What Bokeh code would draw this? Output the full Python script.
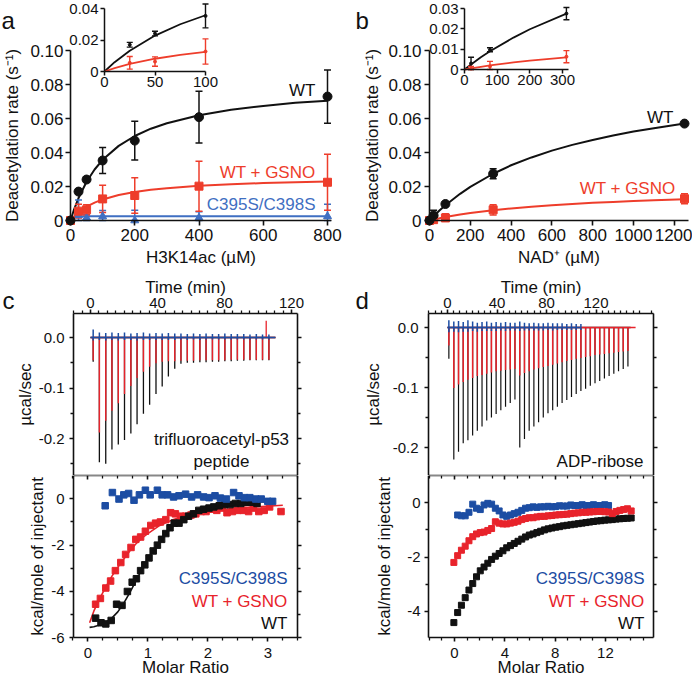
import numpy as np
from bokeh.plotting import figure
from bokeh.models import Range1d, LinearAxis, FixedTicker, CustomJSTickFormatter, Label
from bokeh.layouts import row, column
from bokeh.embed import file_html
from bokeh.resources import INLINE

# ======================= DATA =======================
# ---- panel a : H3K14ac titration ----
h3k14ac_um = [0, 25, 50, 100, 200, 400, 800]
a_wt_rate = [0, 0.0170, 0.0241, 0.0353, 0.0470, 0.0608, 0.0729]
a_wt_err = [0, 0.0015, 0.0015, 0.0076, 0.0114, 0.0152, 0.0157]
a_gsno_rate = [0, 0.0055, 0.0063, 0.0127, 0.0147, 0.0202, 0.0225]
a_gsno_err = [0, 0.0040, 0.0030, 0.0080, 0.0105, 0.0147, 0.0165]
a_mut_rate = [0, 0.0030, 0.0016, 0.0024, 0.0000, 0.0016, 0.0025]
a_mut_err = [0, 0.0090, 0.0020, 0.0035, 0.0060, 0.0035, 0.0070]
a_fit_x = [0, 10, 25, 50, 75, 100, 150, 200, 250, 300, 400, 500, 600, 700, 800]
a_fit_wt = [0, 0.0059, 0.0132, 0.0228, 0.0300, 0.0357, 0.0439, 0.0497, 0.0540,
            0.0572, 0.0619, 0.0651, 0.0674, 0.0692, 0.0705]
a_fit_gsno = [0, 0.0022, 0.0048, 0.0081, 0.0105, 0.0124, 0.0150, 0.0168, 0.0181,
              0.0190, 0.0204, 0.0213, 0.0220, 0.0225, 0.0229]
a_fit_mut_x = [0, 15, 800]
a_fit_mut = [0, 0.0025, 0.0025]
a_x_ticks = [0, 200, 400, 600, 800]
a_y_ticks = [0, 0.02, 0.04, 0.06, 0.08, 0.10]
a_inset_x_ticks = [0, 50, 100]
a_inset_y_ticks = [0, 0.02, 0.04]

# ---- panel b : NAD+ titration ----
nad_um = [0, 20, 78, 312, 1250]
b_wt_rate = [0, 0.0030, 0.0097, 0.0275, 0.0570]
b_wt_err = [0, 0.0030, 0.0010, 0.0030, 0.0006]
b_gsno_rate = [0, 0.0005, 0.0015, 0.0063, 0.0128]
b_gsno_err = [0, 0.0010, 0.0025, 0.0030, 0.0030]
b_fit_x = [0, 20, 50, 78, 150, 200, 312, 400, 500, 600, 700, 800, 900, 1000, 1100, 1250]
b_fit_wt = [0, 0.0025, 0.0060, 0.0090, 0.0157, 0.0198, 0.0275, 0.0325, 0.0371,
            0.0411, 0.0445, 0.0474, 0.0500, 0.0523, 0.0543, 0.0570]
b_fit_gsno = [0, 0.0005, 0.0013, 0.0020, 0.0035, 0.0044, 0.0060, 0.0071, 0.0081,
              0.0090, 0.0097, 0.0104, 0.0109, 0.0114, 0.0119, 0.0125]
b_x_ticks = [0, 200, 400, 600, 800, 1000, 1200]
b_y_ticks = [0, 0.02, 0.04, 0.06, 0.08, 0.10]
b_inset_x_ticks = [0, 100, 200, 300]
b_inset_y_ticks = [0, 0.01, 0.02, 0.03]

# ---- panel c : ITC, trifluoroacetyl-p53 peptide ----
c_inj_time = [1.6, 5.3, 9.1, 12.8, 16.6, 20.3, 24.1, 27.8, 31.6, 35.3, 39.1, 42.8,
              46.5, 50.3, 54.0, 57.8, 61.5, 65.3, 69.0, 72.8, 76.5, 80.2, 84.0,
              87.7, 91.5, 95.2, 99.0, 102.7, 106.5]
c_wt_peak = [-0.048, -0.247, -0.250, -0.222, -0.212, -0.203, -0.190, -0.172, -0.151,
             -0.133, -0.112, -0.097, -0.077, -0.062, -0.052, -0.050, -0.050, -0.049,
             -0.049, -0.048, -0.048, -0.047, -0.047, -0.046, -0.046, -0.045, -0.045,
             -0.045, -0.045]
c_gsno_peak = [-0.045, -0.188, -0.165, -0.145, -0.130, -0.112, -0.096, -0.080, -0.068,
               -0.058, -0.051, -0.048, -0.047, -0.047, -0.046, -0.046, -0.046, -0.045,
               -0.045, -0.045, -0.045, -0.045, -0.044, -0.044, -0.044, -0.044, -0.044,
               -0.044, -0.044]
c_mut_up = [0.016, 0.010, 0.009, 0.010, 0.009, 0.010, 0.008, 0.009, 0.010, 0.008,
            0.009, 0.008, 0.009, 0.008, 0.008, 0.007, 0.008, 0.007, 0.008, 0.007,
            0.007, 0.008, 0.007, 0.007, 0.007, 0.006, 0.007, 0.006, 0.006]
c_mut_down = [-0.006, -0.005, -0.006, -0.005, -0.006, -0.005, -0.005, -0.006, -0.005,
              -0.005, -0.005, -0.005, -0.005, -0.005, -0.004, -0.005, -0.004, -0.005,
              -0.004, -0.004, -0.004, -0.004, -0.004, -0.004, -0.004, -0.004, -0.004,
              -0.004, -0.004]
c_gsno_spike_time = [104.9]
c_gsno_spike_height = [0.033]
c_trace_time = [0.0, 110.4]
c_trace_level = [0.0, 0.0]

c_wt_mr = [0.13, 0.22, 0.30, 0.39, 0.48, 0.57, 0.66, 0.74, 0.81, 0.88, 0.95, 1.02,
           1.09, 1.16, 1.23, 1.30, 1.37, 1.44, 1.52, 1.60, 1.68, 1.76, 1.85, 1.93,
           2.02, 2.10, 2.19, 2.28, 2.37, 2.46, 2.55, 2.64, 2.73, 2.82]
c_wt_kcal = [-5.15, -5.35, -5.40, -5.25, -4.55, -4.60, -4.00, -3.60, -3.45, -3.10,
             -2.85, -2.55, -2.25, -2.00, -1.75, -1.50, -1.25, -1.05, -1.05, -0.90,
             -0.75, -0.65, -0.50, -0.45, -0.40, -0.35, -0.30, -0.25, -0.25, -0.20,
             -0.20, -0.15, -0.15, -0.20]
c_gsno_mr = [0.13, 0.21, 0.30, 0.38, 0.46, 0.55, 0.63, 0.72, 0.80, 0.88, 0.96, 1.05,
             1.13, 1.21, 1.30, 1.38, 1.46, 1.55, 1.63, 1.72, 1.80, 1.89, 1.97, 2.06,
             2.15, 2.24, 2.32, 2.41, 2.50, 2.59, 2.68, 2.76, 2.85, 2.94, 3.03, 3.22]
c_gsno_kcal = [-4.55, -4.30, -3.85, -3.55, -3.10, -2.75, -2.40, -2.10, -1.75, -1.65,
               -1.40, -1.15, -1.05, -1.00, -0.90, -0.60, -0.65, -0.75, -0.75, -0.70,
               -0.65, -0.55, -0.55, -0.45, -0.50, -0.40, -0.60, -0.55, -0.50, -0.50,
               -0.55, -0.40, -0.55, -0.50, -0.35, -0.55]
c_mut_mr = [0.29, 0.41, 0.52, 0.60, 0.68, 0.77, 0.86, 0.96, 1.04, 1.16, 1.24, 1.33,
            1.43, 1.52, 1.63, 1.73, 1.83, 1.93, 2.02, 2.12, 2.21, 2.31, 2.43, 2.52,
            2.61, 2.70, 2.80, 2.89, 3.00, 3.08]
c_mut_kcal = [-0.30, 0.27, -0.01, 0.17, 0.23, -0.06, 0.17, 0.37, 0.17, 0.37, 0.17,
              0.17, 0.08, 0.13, 0.20, 0.08, 0.17, 0.08, 0.05, 0.13, 0.03, -0.01, 0.27,
              0.13, 0.05, 0.05, -0.01, -0.01, -0.11, -0.11]
c_fit_wt_mr = [0.03, 0.1, 0.2, 0.3, 0.4, 0.5, 0.6, 0.7, 0.8, 0.9, 1.0, 1.1, 1.2, 1.3,
               1.4, 1.5, 1.6, 1.8, 2.0, 2.2, 2.4, 2.6, 2.8, 2.95]
c_fit_wt = [-5.55, -5.52, -5.45, -5.33, -5.15, -4.88, -4.50, -4.05, -3.55, -3.05,
            -2.60, -2.20, -1.85, -1.52, -1.24, -1.02, -0.86, -0.62, -0.46, -0.33,
            -0.24, -0.18, -0.14, -0.12]
c_fit_gsno_mr = [0.03, 0.1, 0.2, 0.3, 0.4, 0.5, 0.6, 0.7, 0.8, 0.9, 1.0, 1.2, 1.4,
                 1.6, 1.8, 2.0, 2.3, 2.6, 2.9, 3.25]
c_fit_gsno = [-5.35, -4.85, -4.30, -3.80, -3.35, -2.95, -2.60, -2.25, -1.95, -1.70,
              -1.50, -1.15, -0.92, -0.75, -0.63, -0.54, -0.45, -0.38, -0.33, -0.28]

# ---- panel d : ITC, ADP-ribose ----
d_inj_time = [1.1, 5.1, 8.9, 12.7, 16.5, 20.3, 24.1, 27.9, 31.7, 35.5, 39.3, 43.1,
              46.9, 50.7, 54.5, 58.4, 62.2, 66.0, 69.8, 73.6, 77.4, 81.2, 85.0, 88.8,
              92.6, 96.4, 100.2, 104.0, 107.8, 111.6, 115.4, 119.2, 123.0, 126.8,
              130.6, 134.4, 138.2, 142.0, 145.8]
d_wt_peak = [-0.052, -0.220, -0.207, -0.193, -0.188, -0.180, -0.172, -0.165, -0.155,
             -0.150, -0.144, -0.138, -0.132, -0.126, -0.120, -0.200, -0.186, -0.172,
             -0.165, -0.158, -0.150, -0.143, -0.138, -0.132, -0.126, -0.121, -0.116,
             -0.111, -0.106, -0.102, -0.097, -0.093, -0.089, -0.085, -0.081, -0.077,
             -0.073, -0.069, -0.065]
d_gsno_peak = [-0.030, -0.101, -0.095, -0.091, -0.087, -0.084, -0.081, -0.079, -0.077,
               -0.075, -0.073, -0.072, -0.071, -0.070, -0.069, -0.080, -0.076, -0.073,
               -0.070, -0.068, -0.066, -0.064, -0.062, -0.060, -0.058, -0.056, -0.054,
               -0.052, -0.051, -0.049, -0.048, -0.046, -0.045, -0.044, -0.043, -0.042,
               -0.041, -0.040, -0.039]
d_mut_up = [0.012, 0.010, 0.011, 0.009, 0.012, 0.010, 0.008, 0.009, 0.010, 0.008,
            0.009, 0.008, 0.009, 0.008, 0.008, 0.010, 0.008, 0.007, 0.008, 0.007,
            0.007, 0.008, 0.007, 0.007, 0.007, 0.006, 0.007, 0.006, 0.006]
d_mut_down = [-0.008, -0.007, -0.008, -0.007, -0.007, -0.006, -0.007, -0.006, -0.006,
              -0.006, -0.006, -0.005, -0.006, -0.005, -0.005, -0.006, -0.005, -0.005,
              -0.005, -0.005, -0.005, -0.004, -0.005, -0.004, -0.004, -0.004, -0.004,
              -0.004, -0.004]
d_wt_trace_time = [0.0, 148.0]
d_gsno_trace_time = [0.0, 152.0]
d_mut_trace_time = [0.0, 107.5]
d_trace_level = [0.0, 0.0]

d_wt_mr = [-0.05, 0.25, 0.55, 0.85, 1.15, 1.45, 1.75, 2.05, 2.35, 2.65, 2.95, 3.25,
           3.55, 3.85, 4.15, 4.45, 4.75, 5.05, 5.35, 5.65, 5.95, 6.25, 6.55, 6.85,
           7.15, 7.45, 7.75, 8.05, 8.35, 8.65, 8.95, 9.25, 9.55, 9.85, 10.15, 10.45,
           10.75, 11.05, 11.35, 11.65, 11.95, 12.25, 12.55, 12.85, 13.15, 13.45,
           13.75, 14.05]
d_wt_kcal = [-4.42, -4.05, -3.78, -3.50, -3.22, -2.98, -2.73, -2.51, -2.37, -2.23,
             -2.09, -1.97, -1.87, -1.77, -1.66, -1.58, -1.50, -1.42, -1.34, -1.26,
             -1.19, -1.15, -1.10, -1.05, -1.00, -0.96, -0.93, -0.90, -0.88, -0.85,
             -0.83, -0.81, -0.79, -0.77, -0.75, -0.73, -0.71, -0.69, -0.67, -0.66,
             -0.64, -0.63, -0.62, -0.60, -0.59, -0.58, -0.57, -0.56]
d_gsno_mr = [-0.05, 0.25, 0.55, 0.85, 1.15, 1.45, 1.75, 2.05, 2.35, 2.65, 2.95, 3.25,
             3.55, 3.85, 4.15, 4.45, 4.75, 5.05, 5.35, 5.65, 5.95, 6.25, 6.55, 6.85,
             7.15, 7.45, 7.75, 8.05, 8.35, 8.65, 8.95, 9.25, 9.55, 9.85, 10.15, 10.45,
             10.75, 11.05, 11.35, 11.65, 11.95, 12.25, 12.55, 12.85, 13.15, 13.45,
             13.75, 14.05]
d_gsno_kcal = [-2.20, -1.95, -1.75, -1.60, -1.40, -1.25, -1.15, -1.10, -1.08, -1.02,
               -0.95, -0.70, -0.75, -0.78, -0.78, -0.75, -0.72, -0.68, -0.62, -0.58,
               -0.55, -0.55, -0.52, -0.50, -0.50, -0.48, -0.47, -0.45, -0.44, -0.43,
               -0.42, -0.40, -0.38, -0.37, -0.35, -0.35, -0.34, -0.33, -0.32, -0.32,
               -0.33, -0.34, -0.40, -0.32, -0.28, -0.25, -0.22, -0.30]
d_mut_mr = [0.25, 0.55, 0.85, 1.15, 1.45, 1.75, 2.05, 2.35, 2.65, 2.95, 3.25, 3.55,
            3.85, 4.15, 4.45, 4.75, 5.05, 5.35, 5.65, 5.95, 6.25, 6.55, 6.85, 7.15,
            7.45, 7.75, 8.05, 8.35, 8.65, 8.95, 9.25, 9.55, 9.85, 10.15, 10.45, 10.75,
            11.05, 11.35, 11.65, 11.95, 12.25]
d_mut_kcal = [-0.45, -0.48, -0.48, -0.35, -0.05, -0.20, -0.25, -0.08, -0.02, -0.05,
              -0.20, -0.30, -0.45, -0.50, -0.45, -0.40, -0.35, -0.28, -0.20, -0.18,
              -0.15, -0.17, -0.15, -0.15, -0.13, -0.15, -0.14, -0.11, -0.12, -0.12,
              -0.08, -0.10, -0.10, -0.07, -0.10, -0.10, -0.07, -0.10, -0.10, -0.07,
              -0.10]

time_ticks = [0, 40, 80, 120]
ucal_ticks = [-0.2, -0.1, 0.0]
c_mr_ticks = [0, 1, 2, 3]
c_kcal_ticks = [-6, -4, -2, 0]
d_mr_ticks = [0, 4, 8, 12]
d_kcal_ticks = [-4, -2, 0]

# ======================= STYLE =======================
FONT = "Liberation Sans"
BLACK = "#111111"
RED_AB = "#ee3d2b"
BLUE_AB = "#3f6fc2"
RED_CD = "#e8232b"
BLUE_CD = "#1c4da3"

FMT_RATE = "return Math.abs(tick) < 1e-9 ? '0' : tick.toFixed(2);"
FMT_INT = "return tick.toFixed(0);"
FMT_1 = "return tick.toFixed(1);"
FMT_NONE = "return '';"


def mapper(x0px, kx, y0px, ky):
    """page-pixel -> data converters (value 0 at x0px/y0px, k pixels per unit)"""
    return (lambda px: (px - x0px) / kx), (lambda py: (y0px - py) / ky)


def base_fig(w, h, fx, fy, left, right, top, bottom):
    # the frame fills the whole canvas; axes sit at fixed data locations
    p = figure(width=w, height=h,
               x_range=Range1d(fx(left), fx(right)), y_range=Range1d(fy(bottom), fy(top)),
               x_axis_type=None, y_axis_type=None, output_backend="svg",
               toolbar_location=None, title=None,
               min_border_left=0, min_border_right=0, min_border_top=0, min_border_bottom=0)
    p.outline_line_color = None
    return p


def add_axis(p, side, loc, ticks, fmt, minor=(), out=5, inn=0, mout=0, minn=0,
             standoff=2, size="17px", label=None, lsize="17px", lstandoff=2,
             bounds=None, xr="default", yr="default", lw=1.6):
    ax = LinearAxis(ticker=FixedTicker(ticks=list(ticks), minor_ticks=list(minor)),
                    formatter=CustomJSTickFormatter(code=fmt), fixed_location=loc,
                    x_range_name=xr, y_range_name=yr)
    ax.axis_line_color = BLACK
    ax.axis_line_width = lw
    ax.major_tick_line_color = BLACK
    ax.major_tick_line_width = lw
    ax.minor_tick_line_color = BLACK
    ax.minor_tick_line_width = lw * 0.8
    ax.major_tick_out = out
    ax.major_tick_in = inn
    ax.minor_tick_out = mout
    ax.minor_tick_in = minn
    ax.major_label_standoff = standoff
    ax.major_label_text_font = FONT
    ax.major_label_text_font_size = size
    ax.major_label_text_color = BLACK
    if label:
        ax.axis_label = label
        ax.axis_label_text_font = FONT
        ax.axis_label_text_font_size = lsize
        ax.axis_label_text_font_style = "normal"
        ax.axis_label_text_color = BLACK
        ax.axis_label_standoff = lstandoff
    if bounds is not None:
        ax.bounds = bounds
    p.add_layout(ax, side)
    return ax


def errbars(p, x, y, e, color, cap=7, lw=1.5, floor=None, **rn):
    x = np.asarray(x, float)
    y = np.asarray(y, float)
    e = np.asarray(e, float)
    m = e > 0
    x, y, e = x[m], y[m], e[m]
    lo, hi = y - e, y + e
    if floor is not None:
        lo = np.maximum(lo, floor)
    p.segment(x, lo, x, hi, line_color=color, line_width=lw, **rn)
    p.scatter(np.r_[x, x], np.r_[lo, hi], marker="dash", size=cap,
              line_color=color, line_width=lw, **rn)


def txt(p, x, y, s, color=BLACK, size="17px", align="right", baseline="middle", **rn):
    p.add_layout(Label(x=x, y=y, text=s, text_color=color, text_font=FONT,
                       text_font_size=size, text_align=align,
                       text_baseline=baseline, **rn))


def sel(xs, ys, lo, hi):
    pts = [(a, b) for a, b in zip(xs, ys) if lo <= a <= hi]
    return [a for a, _ in pts], [b for _, b in pts]


ins = dict(x_range_name="ix", y_range_name="iy")

# ======================= PANEL a =======================
AX, AY = mapper(70, 0.32125, 220, 1700)
AIX, AIY = mapper(104, 1.01, 71, 1575)
fa = base_fig(347, 269, AX, AY, 0, 347, 0, 269)
fa.extra_x_ranges = {"ix": Range1d(AIX(0), AIX(347))}
fa.extra_y_ranges = {"iy": Range1d(AIY(269), AIY(0))}
add_axis(fa, "below", 0, a_x_ticks, FMT_INT, out=5, standoff=3,
         label="H3K14ac (µM)", lstandoff=4, bounds=(0, AX(331)))
add_axis(fa, "left", 0, a_y_ticks, FMT_RATE, out=5, standoff=2,
         label="Deacetylation rate (s⁻¹)", lstandoff=5, bounds=(0, 0.1))
add_axis(fa, "below", 0, a_inset_x_ticks, FMT_INT, out=4, standoff=1, size="15px",
         bounds=(0, 100), lw=1.5, xr="ix", yr="iy")
add_axis(fa, "left", 0, a_inset_y_ticks, FMT_RATE, out=4, standoff=2, size="15px",
         bounds=(0, 0.04), lw=1.5, xr="ix", yr="iy")

fa.line(a_fit_x, a_fit_wt, line_color=BLACK, line_width=2)
fa.line(a_fit_x, a_fit_gsno, line_color=RED_AB, line_width=2)
fa.line(a_fit_mut_x, a_fit_mut, line_color=BLUE_AB, line_width=2)
errbars(fa, h3k14ac_um, a_mut_rate, a_mut_err, BLUE_AB, floor=0)
errbars(fa, h3k14ac_um, a_gsno_rate, a_gsno_err, RED_AB, floor=0)
errbars(fa, h3k14ac_um, a_wt_rate, a_wt_err, BLACK, floor=0)
fa.scatter(h3k14ac_um, a_mut_rate, marker="triangle", size=8, color=BLUE_AB)
fa.scatter(h3k14ac_um, a_gsno_rate, marker="square", size=8, color=RED_AB)
fa.scatter(h3k14ac_um, a_wt_rate, marker="circle", size=9, color=BLACK)

fx, fy = sel(a_fit_x, a_fit_wt, 0, 100)
fa.line(fx, fy, line_color=BLACK, line_width=1.8, **ins)
fx, fy = sel(a_fit_x, a_fit_gsno, 0, 100)
fa.line(fx, fy, line_color=RED_AB, line_width=1.8, **ins)
for ys, es, col in [(a_wt_rate, a_wt_err, BLACK), (a_gsno_rate, a_gsno_err, RED_AB)]:
    xx = [x for x in h3k14ac_um if 0 < x <= 100]
    yy = [y for x, y in zip(h3k14ac_um, ys) if 0 < x <= 100]
    ee = [e for x, e in zip(h3k14ac_um, es) if 0 < x <= 100]
    errbars(fa, xx, yy, ee, col, cap=6, lw=1.4, floor=0, **ins)
    fa.scatter(xx, yy, marker="circle", size=3, color=col, **ins)

txt(fa, AX(315), AY(90), "WT", BLACK)
txt(fa, AX(315), AY(172), "WT + GSNO", RED_AB)
txt(fa, AX(315), AY(204), "C395S/C398S", BLUE_AB)
txt(fa, AX(1), AY(20), "a", BLACK, size="24px", align="left", baseline="alphabetic")

# ======================= PANEL b =======================
BX, BY = mapper(429, 0.204, 220, 1700)
BIX, BIY = mapper(464, 0.32667, 69, 2033.3)
fb = base_fig(345, 269, BX, BY, 347, 692, 0, 269)
fb.extra_x_ranges = {"ix": Range1d(BIX(347), BIX(692))}
fb.extra_y_ranges = {"iy": Range1d(BIY(269), BIY(0))}
add_axis(fb, "below", 0, b_x_ticks, FMT_INT, out=5, standoff=3,
         label="NAD⁺ (µM)", lstandoff=4, bounds=(0, BX(688)))
add_axis(fb, "left", 0, b_y_ticks, FMT_RATE, out=5, standoff=3,
         label="Deacetylation rate (s⁻¹)", lstandoff=3, bounds=(0, 0.1))
add_axis(fb, "below", 0, b_inset_x_ticks, FMT_INT, out=4, standoff=1, size="15px",
         bounds=(0, 318), lw=1.5, xr="ix", yr="iy")
add_axis(fb, "left", 0, b_inset_y_ticks, FMT_RATE, out=4, standoff=2, size="15px",
         bounds=(0, 0.03), lw=1.5, xr="ix", yr="iy")

fb.line(b_fit_x, b_fit_wt, line_color=BLACK, line_width=2)
fb.line(b_fit_x, b_fit_gsno, line_color=RED_AB, line_width=2)
errbars(fb, nad_um, b_gsno_rate, b_gsno_err, RED_AB, floor=0)
errbars(fb, nad_um, b_wt_rate, b_wt_err, BLACK, floor=0)
fb.scatter(nad_um, b_gsno_rate, marker="square", size=8, color=RED_AB)
fb.scatter(nad_um, b_wt_rate, marker="circle", size=9, color=BLACK)

fx, fy = sel(b_fit_x, b_fit_wt, 0, 312)
fb.line(fx, fy, line_color=BLACK, line_width=1.8, **ins)
fx, fy = sel(b_fit_x, b_fit_gsno, 0, 312)
fb.line(fx, fy, line_color=RED_AB, line_width=1.8, **ins)
for ys, es, col in [(b_wt_rate, b_wt_err, BLACK), (b_gsno_rate, b_gsno_err, RED_AB)]:
    xx = [x for x in nad_um if 0 < x <= 320]
    yy = [y for x, y in zip(nad_um, ys) if 0 < x <= 320]
    ee = [e for x, e in zip(nad_um, es) if 0 < x <= 320]
    errbars(fb, xx, yy, ee, col, cap=6, lw=1.4, floor=0, **ins)
    fb.scatter(xx, yy, marker="circle", size=3, color=col, **ins)

txt(fb, BX(673), BY(117), "WT", BLACK)
txt(fb, BX(675), BY(188), "WT + GSNO", RED_AB)
txt(fb, BX(355), BY(20), "b", BLACK, size="24px", align="left", baseline="alphabetic")

# ======================= PANEL c =======================
CTX, CTY = mapper(90, 1.675, 337, 505)
fct = base_fig(347, 206, CTX, CTY, 0, 347, 269, 475)
c_l, c_r, c_t, c_b = CTX(73), CTX(297), CTY(313), CTY(475)
time_minor_c = [m for m in range(-10, 125, 5) if m % 40 != 0]
add_axis(fct, "left", c_l, ucal_ticks, FMT_1, minor=[-0.25, -0.15, -0.05],
         out=4, mout=3, standoff=5, size="15px", label="µcal/sec", lstandoff=1,
         bounds=(c_b, c_t))
add_axis(fct, "right", c_r, ucal_ticks, FMT_NONE, minor=[-0.25, -0.15, -0.05],
         out=4, mout=3, standoff=0, size="15px", bounds=(c_b, c_t))
add_axis(fct, "above", c_t, time_ticks, FMT_INT, minor=time_minor_c,
         out=4, mout=3, standoff=2, size="15px", label="Time (min)", lstandoff=-2,
         bounds=(c_l, c_r))
add_axis(fct, "below", c_b, [], FMT_NONE, out=0, standoff=0, bounds=(c_l, c_r))

zc = [0.0] * len(c_inj_time)
fct.line(c_trace_time, c_trace_level, line_color=BLACK, line_width=1.3)
fct.segment(c_inj_time, zc, c_inj_time, c_wt_peak, line_color=BLACK, line_width=1.3)
fct.line(c_trace_time, c_trace_level, line_color=RED_CD, line_width=1.3)
fct.segment(c_inj_time, zc, c_inj_time, c_gsno_peak, line_color=RED_CD, line_width=1.4)
fct.segment(c_gsno_spike_time, [0.0], c_gsno_spike_time, c_gsno_spike_height,
            line_color=RED_CD, line_width=1.3)
fct.line(c_trace_time, c_trace_level, line_color=BLUE_CD, line_width=1.5)
fct.segment(c_inj_time, c_mut_down, c_inj_time, c_mut_up, line_color=BLUE_CD, line_width=1.5)
txt(fct, CTX(221), CTY(439), "trifluoroacetyl-p53", BLACK, align="center")
txt(fct, CTX(221), CTY(461), "peptide", BLACK, align="center")
txt(fct, CTX(2), CTY(300), "c", BLACK, size="24px", align="left", baseline="alphabetic")

CBX, CBY = mapper(87.3, 60, 498.3, 23.17)
fcb = base_fig(347, 203, CBX, CBY, 0, 347, 475, 678)
cb_l, cb_r, cb_t, cb_b = CBX(73), CBX(297), CBY(475), CBY(637.3)
mr_minor_c = [m / 4 for m in range(-1, 15) if m % 4 != 0]
add_axis(fcb, "left", cb_l, c_kcal_ticks, FMT_INT, minor=[-5, -3, -1],
         out=4, mout=3, standoff=5, size="15px", label="kcal/mole of injectant",
         lstandoff=1, bounds=(cb_b, cb_t))
add_axis(fcb, "right", cb_r, c_kcal_ticks, FMT_NONE, minor=[-5, -3, -1],
         out=4, mout=3, standoff=0, size="15px", bounds=(cb_b, cb_t))
add_axis(fcb, "below", cb_b, c_mr_ticks, FMT_INT, minor=mr_minor_c,
         out=4, mout=3, standoff=6, size="15px", label="Molar Ratio", lstandoff=-3,
         bounds=(cb_l, cb_r))
add_axis(fcb, "above", cb_t, c_mr_ticks, FMT_NONE, minor=mr_minor_c,
         out=0, inn=4, mout=0, minn=3, standoff=0, size="15px", bounds=(cb_l, cb_r))

fcb.scatter(c_gsno_mr, c_gsno_kcal, marker="square", size=6.5, color=RED_CD)
fcb.line(c_fit_gsno_mr, c_fit_gsno, line_color=RED_CD, line_width=1.6)
fcb.scatter(c_wt_mr, c_wt_kcal, marker="square", size=6.5, color=BLACK)
fcb.line(c_fit_wt_mr, c_fit_wt, line_color=BLACK, line_width=1.6)
fcb.scatter(c_mut_mr, c_mut_kcal, marker="square", size=6.5, color=BLUE_CD)
txt(fcb, CBX(287), CBY(578), "C395S/C398S", BLUE_CD)
txt(fcb, CBX(287), CBY(601), "WT + GSNO", RED_CD)
txt(fcb, CBX(287), CBY(623), "WT", BLACK)

# ======================= PANEL d =======================
DTX, DTY = mapper(447, 1.2375, 327, 600)
fdt = base_fig(345, 206, DTX, DTY, 347, 692, 269, 475)
d_l, d_r, d_t, d_b = DTX(428), DTX(653), DTY(313), DTY(475)
time_minor_d = [m for m in range(-15, 166, 5) if m % 40 != 0]
add_axis(fdt, "left", d_l, ucal_ticks, FMT_1, minor=[-0.15, -0.05],
         out=4, mout=3, standoff=6, size="15px", label="µcal/sec", lstandoff=7,
         bounds=(d_b, d_t))
add_axis(fdt, "right", d_r, ucal_ticks, FMT_NONE, minor=[-0.15, -0.05],
         out=4, mout=3, standoff=0, size="15px", bounds=(d_b, d_t))
add_axis(fdt, "above", d_t, time_ticks, FMT_INT, minor=time_minor_d,
         out=4, mout=3, standoff=2, size="15px", label="Time (min)", lstandoff=-2,
         bounds=(d_l, d_r))
add_axis(fdt, "below", d_b, [], FMT_NONE, out=0, standoff=0, bounds=(d_l, d_r))

zd = [0.0] * len(d_inj_time)
fdt.line(d_wt_trace_time, d_trace_level, line_color=BLACK, line_width=1.3)
fdt.segment(d_inj_time, zd, d_inj_time, d_wt_peak, line_color=BLACK, line_width=1.2)
fdt.line(d_gsno_trace_time, d_trace_level, line_color=RED_CD, line_width=1.4)
fdt.segment(d_inj_time, zd, d_inj_time, d_gsno_peak, line_color=RED_CD, line_width=1.5)
d_mut_time = d_inj_time[:len(d_mut_up)]
fdt.line(d_mut_trace_time, d_trace_level, line_color=BLUE_CD, line_width=1.5)
fdt.segment(d_mut_time, d_mut_down, d_mut_time, d_mut_up, line_color=BLUE_CD, line_width=1.5)
txt(fdt, DTX(643), DTY(461), "ADP-ribose", BLACK)
txt(fdt, DTX(355), DTY(300), "d", BLACK, size="24px", align="left", baseline="alphabetic")

DBX, DBY = mapper(454, 12.575, 502.3, 27.1)
fdb = base_fig(345, 203, DBX, DBY, 347, 692, 475, 678)
db_l, db_r, db_t, db_b = DBX(428), DBX(653), DBY(475), DBY(637.3)
mr_minor_d = [m for m in range(-2, 16) if m % 4 != 0]
add_axis(fdb, "left", db_l, d_kcal_ticks, FMT_INT, minor=[-3, -1],
         out=4, mout=3, standoff=4, size="15px", label="kcal/mole of injectant",
         lstandoff=10, bounds=(db_b, db_t))
add_axis(fdb, "right", db_r, d_kcal_ticks, FMT_NONE, minor=[-3, -1],
         out=4, mout=3, standoff=0, size="15px", bounds=(db_b, db_t))
add_axis(fdb, "below", db_b, d_mr_ticks, FMT_INT, minor=mr_minor_d,
         out=4, mout=3, standoff=6, size="15px", label="Molar Ratio", lstandoff=-3,
         bounds=(db_l, db_r))
add_axis(fdb, "above", db_t, d_mr_ticks, FMT_NONE, minor=mr_minor_d,
         out=0, inn=4, mout=0, minn=3, standoff=0, size="15px", bounds=(db_l, db_r))

fdb.scatter(d_wt_mr, d_wt_kcal, marker="square", size=6, color=BLACK)
fdb.scatter(d_mut_mr, d_mut_kcal, marker="square", size=6, color=BLUE_CD)
fdb.scatter(d_gsno_mr, d_gsno_kcal, marker="square", size=6, color=RED_CD)
txt(fdb, DBX(644), DBY(578), "C395S/C398S", BLUE_CD)
txt(fdb, DBX(644), DBY(601), "WT + GSNO", RED_CD)
txt(fdb, DBX(644), DBY(623), "WT", BLACK)

layout = column(row(fa, fb), row(column(fct, fcb), column(fdt, fdb)))
open("out.html", "w").write(file_html(layout, INLINE, title="SIRT figure"))
